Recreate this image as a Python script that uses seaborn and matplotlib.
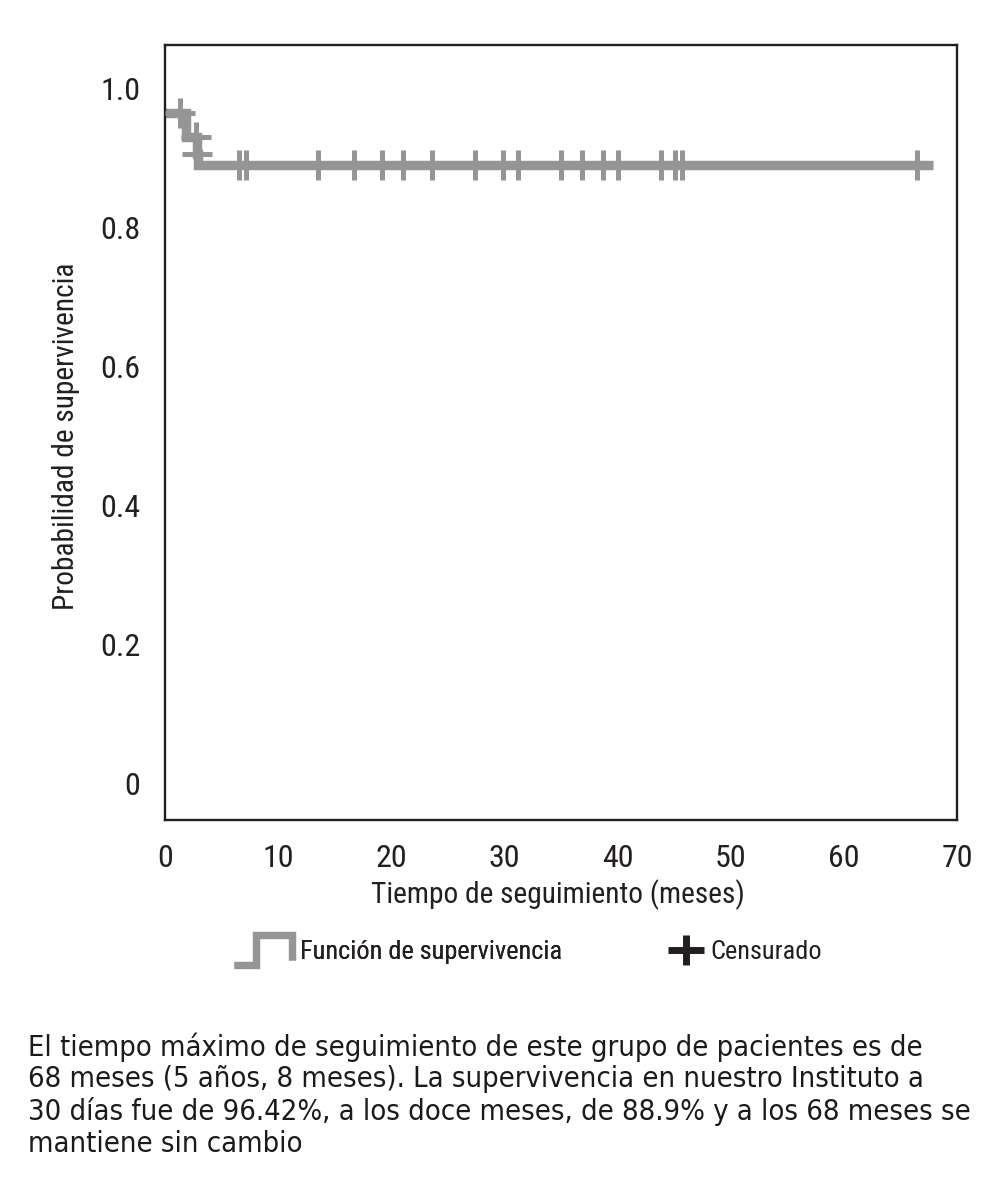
import matplotlib
matplotlib.use("Agg")
import matplotlib.pyplot as plt
import seaborn as sns
import pandas as pd
from matplotlib.legend_handler import HandlerBase
from matplotlib.lines import Line2D

# Curva de Kaplan-Meier (escalones)
step_times = [0, 1.9, 2.8, 2.9, 67.9]
step_surv = [0.964, 0.929, 0.905, 0.889, 0.889]

# Casos censurados (meses, probabilidad)
censor_times = [1.33, 2.75, 2.85, 6.57, 7.16, 13.55, 16.73, 19.21, 21.06, 23.63,
                27.43, 29.90, 31.23, 35.03, 36.88, 38.74, 40.06, 43.86, 45.10,
                45.72, 66.49]
censor_surv = [0.964, 0.929, 0.905] + [0.889] * 18

x_ticks = [0, 10, 20, 30, 40, 50, 60, 70]
y_ticks = [0, 0.2, 0.4, 0.6, 0.8, 1.0]
y_tick_labels = ['0', '0.2', '0.4', '0.6', '0.8', '1.0']

caption = ("El tiempo máximo de seguimiento de este grupo de pacientes es de\n"
           "68 meses (5 años, 8 meses). La supervivencia en nuestro Instituto a\n"
           "30 días fue de 96.42%, a los doce meses, de 88.9% y a los 68 meses se\n"
           "mantiene sin cambio")

GRAY = '#959595'
INK = '#231f20'
NARROW = ['Roboto Condensed', 'DejaVu Sans']

sns.set_style('white')
plt.rcParams['font.family'] = NARROW

curve = pd.DataFrame({'t': step_times, 's': step_surv})
censored = pd.DataFrame({'t': censor_times, 's': censor_surv})

fig = plt.figure(figsize=(9.95, 11.91), dpi=100)
ax = fig.add_axes([0.1658, 0.3115, 0.7960, 0.6507])

sns.lineplot(data=curve, x='t', y='s', drawstyle='steps-post', color=GRAY,
             linewidth=6.8, solid_joinstyle='miter', solid_capstyle='butt',
             ax=ax, legend=False, estimator=None)
sns.scatterplot(data=censored, x='t', y='s', marker='+', s=21.6 ** 2,
                color=GRAY, linewidth=3.6, ax=ax, legend=False, zorder=3)

ax.set_xlim(0, 70)
ax.set_ylim(-0.053, 1.062)
ax.set_xticks(x_ticks)
ax.set_yticks(y_ticks)
ax.set_yticklabels(y_tick_labels)

for side in ['left', 'right', 'top', 'bottom']:
    ax.spines[side].set_color(INK)
    ax.spines[side].set_linewidth(1.7)

ax.tick_params(axis='both', direction='out', length=8.6, width=1.7,
               color=INK, labelcolor=INK, labelsize=23, pad=9)
ax.xaxis.get_major_ticks()[0].tick1line.set_visible(False)
ax.xaxis.get_major_ticks()[-1].tick1line.set_visible(False)
ax.yaxis.get_major_ticks()[0].tick1line.set_visible(False)

ax.set_xlabel('Tiempo de seguimiento (meses)', fontsize=21.2, color=INK)
ax.set_ylabel('Probabilidad de supervivencia', fontsize=21.2, color=INK)
ax.xaxis.set_label_coords(0.496, -0.076)
ax.yaxis.set_label_coords(-0.107, 0.495)


class StepHandler(HandlerBase):
    # icono en escalón como en la leyenda original
    def create_artists(self, legend, orig_handle, xdescent, ydescent,
                       width, height, fontsize, trans):
        x0, y0 = -xdescent, -ydescent
        xs = [x0, x0 + 0.38 * width, x0 + 0.38 * width, x0 + width, x0 + width]
        ys = [y0, y0, y0 + height, y0 + height, y0 + 0.15 * height]
        ln = Line2D(xs, ys, color=GRAY, linewidth=5.2, solid_joinstyle='miter',
                    solid_capstyle='butt', transform=trans)
        return [ln]


class CrossHandler(HandlerBase):
    def create_artists(self, legend, orig_handle, xdescent, ydescent,
                       width, height, fontsize, trans):
        cx = -xdescent + width / 2
        cy = -ydescent + height / 2
        h = Line2D([cx - width / 2, cx + width / 2], [cy, cy], color=INK,
                   linewidth=5, solid_capstyle='butt', transform=trans)
        v = Line2D([cx, cx], [cy - height / 2, cy + height / 2], color=INK,
                   linewidth=5, solid_capstyle='butt', transform=trans)
        return [h, v]


step_handle = Line2D([], [], color=GRAY)
cross_handle = Line2D([], [], color=INK)

leg1 = fig.legend([step_handle], ['Función de supervivencia'],
                  handler_map={step_handle: StepHandler()},
                  loc='center left', bbox_to_anchor=(234 / 995, 1 - 950 / 1191),
                  frameon=False, borderpad=0, borderaxespad=0,
                  handlelength=2.2, handleheight=1.35, handletextpad=0.3,
                  prop={'family': NARROW, 'size': 18.9})
leg2 = fig.legend([cross_handle], ['Censurado'],
                  handler_map={cross_handle: CrossHandler()},
                  loc='center left', bbox_to_anchor=(668 / 995, 1 - 950 / 1191),
                  frameon=False, borderpad=0, borderaxespad=0,
                  handlelength=1.37, handleheight=1.37, handletextpad=0.25,
                  prop={'family': NARROW, 'size': 18.9})
for leg in (leg1, leg2):
    for txt in leg.get_texts():
        txt.set_color(INK)
fig.add_artist(leg1)

fig.text(28 / 995, 1 - 1032 / 1191, caption, ha='left', va='top',
         fontsize=20.9, color='#1a1a1a', linespacing=1.17,
         family=['DejaVu Sans'], fontstretch='condensed')

fig.savefig('out.png', dpi=100)
